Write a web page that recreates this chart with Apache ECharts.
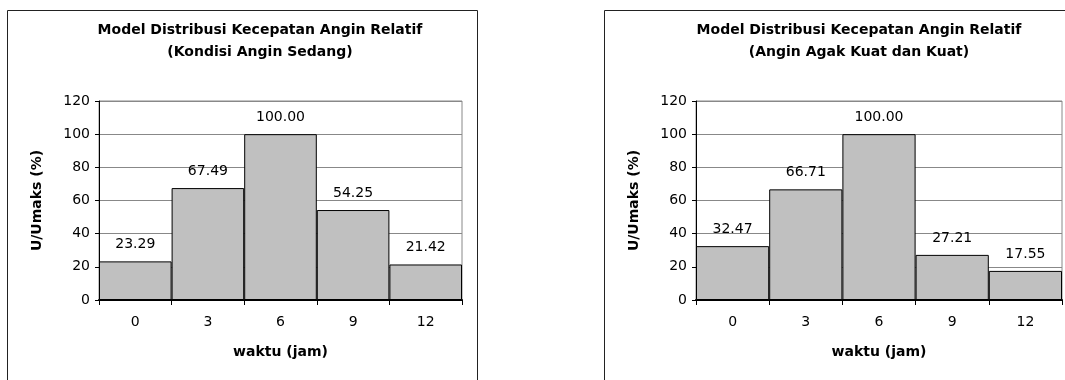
<!DOCTYPE html>
<html><head><meta charset="utf-8">
<script src="https://cdn.jsdelivr.net/npm/echarts@6/dist/echarts.min.js"></script>
<style>html,body{margin:0;padding:0;background:#fff}#c{width:1065px;height:380px}</style>
</head><body><div id="c"></div>
<script>
const categories = ['0', '3', '6', '9', '12'];
const sedang = [23.29, 67.49, 100.00, 54.25, 21.42];
const kuat = [32.47, 66.71, 100.00, 27.21, 17.55];
const titles = ['Model Distribusi Kecepatan Angin Relatif\n(Kondisi Angin Sedang)',
                'Model Distribusi Kecepatan Angin Relatif\n(Angin Agak Kuat dan Kuat)'];
const xName = 'waktu (jam)';
const yName = 'U/Umaks (%)';

const FONT = 'DejaVu Sans, sans-serif';
const chart = echarts.init(document.getElementById('c'), null, {renderer: 'canvas'});
const grids = [
  {left: 99, top: 101, width: 363, height: 199},
  {left: 696, top: 101, width: 366, height: 199}
];
function xAxis(i) {
  return {
    type: 'category', gridIndex: i, data: categories,
    name: xName, nameLocation: 'middle', nameGap: 45,
    nameTextStyle: {fontFamily: FONT, fontWeight: 'bold', fontSize: 14, color: '#000'},
    axisLine: {lineStyle: {color: '#000', width: 2}},
    axisTick: {show: true, length: 5, lineStyle: {color: '#000'}},
    axisLabel: {fontFamily: FONT, fontSize: 14, color: '#000', margin: 15},
    splitLine: {show: false}
  };
}
function yAxis(i) {
  return {
    type: 'value', gridIndex: i, min: 0, max: 120, interval: 20,
    name: yName, nameLocation: 'middle', nameGap: 55,
    nameTextStyle: {fontFamily: FONT, fontWeight: 'bold', fontSize: 14, color: '#000'},
    axisLine: {show: true, lineStyle: {color: '#000', width: 1}},
    axisTick: {show: true, length: 4, lineStyle: {color: '#000'}},
    axisLabel: {fontFamily: FONT, fontSize: 14, color: '#000', margin: 9},
    splitLine: {show: true, lineStyle: {color: '#888', width: 1}}
  };
}
function series(i, data) {
  return {
    type: 'bar', xAxisIndex: i, yAxisIndex: i, data: data,
    barCategoryGap: 0,
    itemStyle: {color: '#c0c0c0', borderColor: '#000', borderWidth: 1},
    label: {show: true, position: 'top', distance: 10, fontFamily: FONT, fontSize: 14, color: '#000',
            formatter: p => p.value.toFixed(2)},
    silent: true, animation: false
  };
}
chart.setOption({
  animation: false,
  title: [
    {text: titles[0], left: 255, top: 14, textAlign: 'center',
     textStyle: {fontFamily: FONT, fontWeight: 'bold', fontSize: 14, color: '#000', lineHeight: 22}},
    {text: titles[1], left: 854, top: 14, textAlign: 'center',
     textStyle: {fontFamily: FONT, fontWeight: 'bold', fontSize: 14, color: '#000', lineHeight: 22}}
  ],
  grid: grids.map(g => Object.assign({show: true, borderColor: '#888', borderWidth: 1, backgroundColor: 'transparent'}, g)),
  xAxis: [xAxis(0), xAxis(1)],
  yAxis: [yAxis(0), yAxis(1)],
  series: [series(0, sedang), series(1, kuat)],
  graphic: [
    {type: 'rect', shape: {x: 7.5, y: 10.5, width: 470, height: 400}, style: {fill: 'none', stroke: '#222', lineWidth: 1}, silent: true},
    {type: 'rect', shape: {x: 604.5, y: 10.5, width: 480, height: 400}, style: {fill: 'none', stroke: '#222', lineWidth: 1}, silent: true}
  ]
});
</script></body></html>
